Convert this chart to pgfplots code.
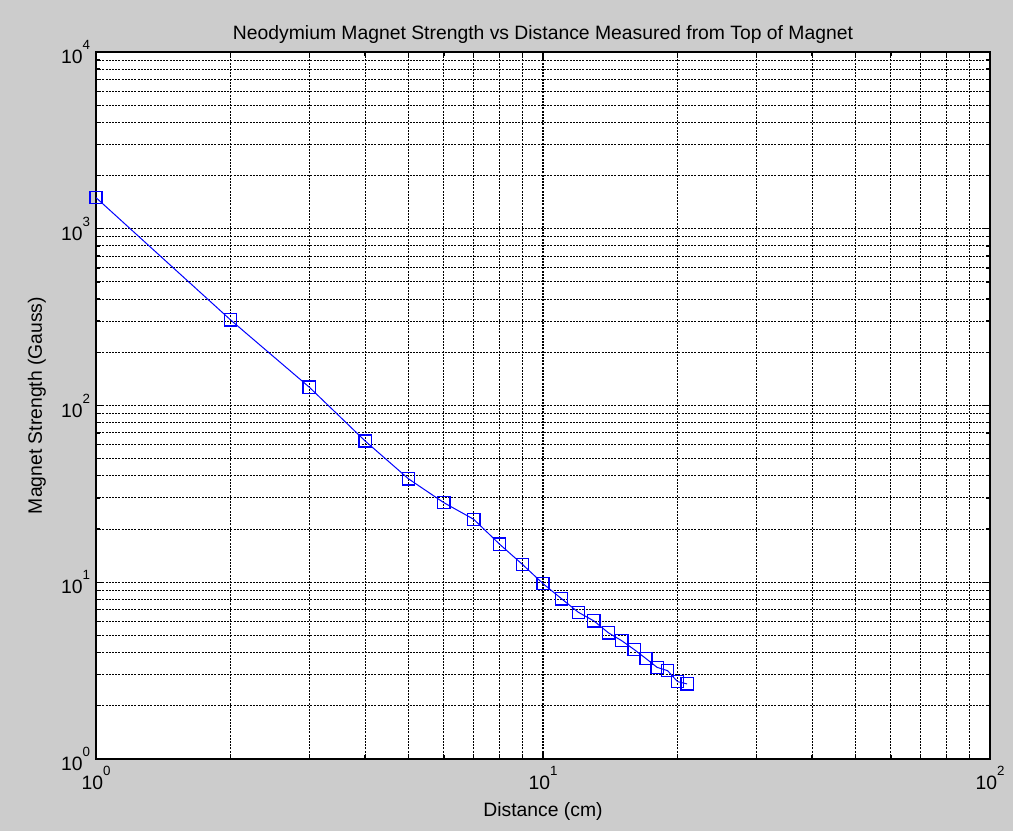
\documentclass[border=0pt]{standalone}
\usepackage{pgfplots}
\pgfplotsset{compat=1.18}
\usepackage{fontspec}
\setmainfont{Liberation Sans}
\definecolor{figgray}{RGB}{204,204,204}
\definecolor{lineblue}{RGB}{0,0,255}
% power-of-ten tick label with a raised exponent
\newcommand{\tp}[1]{10\raisebox{0.72em}{\fontsize{10}{10}\selectfont #1}}

\begin{document}
\begin{tikzpicture}
% figure background (1 px = 0.75pt)
\path[use as bounding box, fill=figgray] (-72pt,-54pt) rectangle (687.75pt,569.25pt);
\begin{axis}[
  xmode=log, ymode=log,
  scale only axis,
  width=670.5pt, height=530.25pt,
  xmin=1, xmax=100, ymin=1, ymax=10000,
  axis background/.style={fill=white},
  axis line style={black, line width=1.2pt},
  font=\fontsize{14.5}{17}\selectfont,
  xtick={1,10,100},
  xticklabels={\tp{0},\tp{1},\tp{2}},
  minor xtick={2,3,4,5,6,7,8,9,20,30,40,50,60,70,80,90},
  ytick={1,10,100,1000,10000},
  yticklabels={\tp{0},\tp{1},\tp{2},\tp{3},\tp{4}},
  minor ytick={2,3,4,5,6,7,8,9,20,30,40,50,60,70,80,90,200,300,400,500,600,700,800,900,2000,3000,4000,5000,6000,7000,8000,9000},
  tick align=inside,
  major tick length=6pt,
  minor tick length=3pt,
  tick style={black, line width=1pt},
  grid=both,
  major grid style={black, line width=0.8pt, dash pattern=on 1.5pt off 0.9pt},
  minor grid style={black, line width=0.8pt, dash pattern=on 1.5pt off 0.9pt},
  xticklabel style={yshift=-2pt},
  yticklabel style={xshift=-1pt},
  title={Neodymium Magnet Strength vs Distance Measured from Top of Magnet},
  title style={at={(axis description cs:0.5,1.0128)}, anchor=center},
  xlabel={Distance (cm)},
  xlabel style={at={(axis description cs:0.5,-0.0745)}, anchor=center},
  ylabel={Magnet Strength (Gauss)},
  ylabel style={at={(axis description cs:-0.066,0.5)}, anchor=center, rotate=0},
]
\addplot[draw=lineblue, line width=0.75pt, mark=square, mark size=4.6pt,
  mark options={solid, draw=lineblue, fill=none, line width=1pt}]
  coordinates {
  (1,1500) (2,305) (3,127) (4,63) (5,38.5) (6,28.2) (7,22.7) (8,16.4)
  (9,12.6) (10,9.82) (11,8.07) (12,6.76) (13,6.04) (14,5.18) (15,4.67)
  (16,4.16) (17,3.70) (18,3.30) (19,3.16) (20,2.74) (21,2.66)
  };
\end{axis}
\end{tikzpicture}
\end{document}
